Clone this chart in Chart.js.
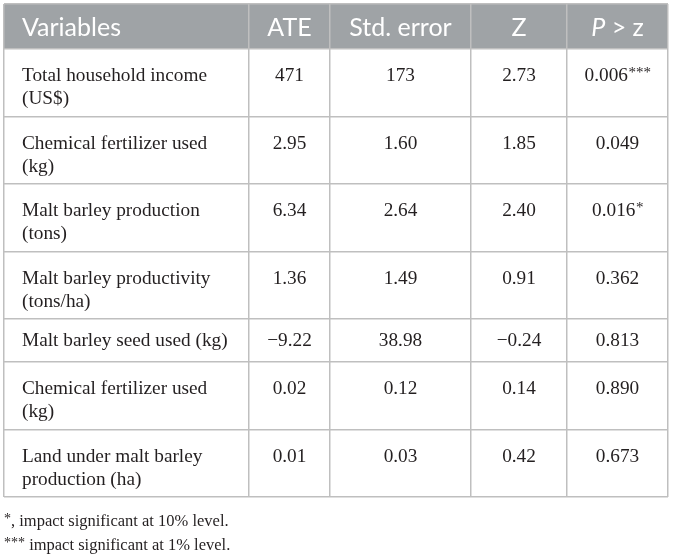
<!DOCTYPE html>
<html>
<head>
<meta charset="utf-8">
<script src="https://cdn.jsdelivr.net/npm/chart.js@4.4.1/dist/chart.umd.min.js"></script>
<style>
  html, body { margin: 0; padding: 0; background: #fff; }
  #table { display: block; }
</style>
</head>
<body>
<canvas id="table" width="673" height="555"></canvas>
<script>
// table content
const headers = ["Variables", "ATE", "Std. error", "Z", "P > z"];
const variables = [
    ["Total household income", "(US$)"],
    ["Chemical fertilizer used", "(kg)"],
    ["Malt barley production", "(tons)"],
    ["Malt barley productivity", "(tons/ha)"],
    ["Malt barley seed used (kg)"],
    ["Chemical fertilizer used", "(kg)"],
    ["Land under malt barley", "production (ha)"]
];
const ate = ["471", "2.95", "6.34", "1.36", "\u22129.22", "0.02", "0.01"];
const stdError = ["173", "1.60", "2.64", "1.49", "38.98", "0.12", "0.03"];
const zValues = ["2.73", "1.85", "2.40", "0.91", "\u22120.24", "0.14", "0.42"];
const pValues = ["0.006", "0.049", "0.016", "0.362", "0.813", "0.890", "0.673"];
const stars = ["***", "", "*", "", "", "", ""];
const footnotes = [
    ["*", ", impact significant at 10% level."],
    ["***", " impact significant at 1% level."]
];

// layout
const colWidths = [245, 81, 141, 96, 101];
const headerHeight = 45;
const lineRowHeight = { 1: 43, 2: 67.5 };

const colEdges = [0];
colWidths.forEach(w => colEdges.push(colEdges[colEdges.length - 1] + w));
const rowEdges = [0, headerHeight];
variables.forEach(v => rowEdges.push(rowEdges[rowEdges.length - 1] + lineRowHeight[v.length]));

const bodyFont = '19.3px "Liberation Serif", "DejaVu Serif", serif';
const starFont = '15px "Liberation Serif", "DejaVu Serif", serif';
const headFont = '25px Lato, "Open Sans", sans-serif';
const headItalic = 'italic 25px Lato, "Open Sans", sans-serif';
const textColor = '#231f20';
const lineColor = '#bfbfbf';

function drawWithStars(ctx, text, sup, x, y, align) {
    ctx.font = bodyFont;
    const w = ctx.measureText(text).width;
    ctx.font = starFont;
    const sw = sup ? ctx.measureText(sup).width : 0;
    let left = align === 'center' ? x - (w + sw) / 2 : x;
    ctx.textAlign = 'left';
    ctx.font = bodyFont;
    ctx.fillText(text, left, y);
    if (sup) {
        ctx.font = starFont;
        ctx.fillText(sup, left + w + 0.5, y - 3);
    }
}

const tablePlugin = {
    id: 'tablePlugin',
    beforeDraw(chart) {
        const { ctx, scales: { x, y } } = chart;
        ctx.save();
        ctx.fillStyle = '#9fa3a6';
        ctx.fillRect(x.getPixelForValue(colEdges[0]), y.getPixelForValue(rowEdges[0]),
            x.getPixelForValue(colEdges[colEdges.length - 1]) - x.getPixelForValue(colEdges[0]),
            y.getPixelForValue(rowEdges[1]) - y.getPixelForValue(rowEdges[0]));
        ctx.restore();
    },
    afterDraw(chart) {
        const { ctx, scales: { x, y } } = chart;
        ctx.save();
        ctx.textBaseline = 'middle';

        // header
        ctx.fillStyle = '#ffffff';
        const hy = y.getPixelForValue(rowEdges[0] + headerHeight / 2) + 1;
        headers.forEach((h, j) => {
            if (j === 0) {
                ctx.font = headFont;
                ctx.textAlign = 'left';
                ctx.fillText(h, x.getPixelForValue(colEdges[0] + 18), hy);
            } else if (j === 4) {
                ctx.font = headItalic;
                const pw = ctx.measureText('P').width;
                ctx.font = headFont;
                const rw = ctx.measureText(' > z').width;
                const cx = x.getPixelForValue((colEdges[j] + colEdges[j + 1]) / 2);
                const left = cx - (pw + rw) / 2;
                ctx.textAlign = 'left';
                ctx.font = headItalic;
                ctx.fillText('P', left, hy);
                ctx.font = headFont;
                ctx.fillText(' > z', left + pw, hy);
            } else {
                ctx.font = headFont;
                ctx.textAlign = 'center';
                ctx.fillText(h, x.getPixelForValue((colEdges[j] + colEdges[j + 1]) / 2), hy);
            }
        });

        // body rows
        ctx.fillStyle = textColor;
        variables.forEach((lines, i) => {
            const top = rowEdges[i + 1];
            const firstY = y.getPixelForValue(top + (lines.length === 1 ? 22 : 27));
            lines.forEach((ln, k) => {
                drawWithStars(ctx, ln, '', x.getPixelForValue(colEdges[0] + 18), firstY + k * 23, 'left');
            });
            const cols = [ate[i], stdError[i], zValues[i], pValues[i]];
            cols.forEach((v, c) => {
                const cx = x.getPixelForValue((colEdges[c + 1] + colEdges[c + 2]) / 2);
                drawWithStars(ctx, v, c === 3 ? stars[i] : '', cx, firstY, 'center');
            });
        });

        // footnotes
        const fy0 = y.getPixelForValue(rowEdges[rowEdges.length - 1]);
        footnotes.forEach((f, k) => {
            const fy = fy0 + 25 + k * 24;
            ctx.font = '14px "Liberation Serif", serif';
            ctx.textAlign = 'left';
            const sw = ctx.measureText(f[0]).width;
            ctx.fillText(f[0], 4, fy - 3);
            ctx.font = '16.5px "Liberation Serif", "DejaVu Serif", serif';
            ctx.fillText(f[1], 4 + sw, fy);
        });
        ctx.restore();
    }
};

const gridOpts = { color: lineColor, lineWidth: 1.5, drawTicks: false };

new Chart(document.getElementById('table'), {
    type: 'scatter',
    data: { datasets: [] },
    options: {
        responsive: false,
        animation: false,
        layout: { padding: { left: 4, top: 4, right: 5, bottom: 58 } },
        plugins: { legend: { display: false }, tooltip: { enabled: false } },
        scales: {
            x: {
                type: 'linear',
                min: colEdges[0],
                max: colEdges[colEdges.length - 1],
                afterBuildTicks: s => { s.ticks = colEdges.map(v => ({ value: v })); },
                ticks: { display: false },
                grid: gridOpts,
                border: { display: false }
            },
            y: {
                type: 'linear',
                reverse: true,
                min: rowEdges[0],
                max: rowEdges[rowEdges.length - 1],
                afterBuildTicks: s => { s.ticks = rowEdges.map(v => ({ value: v })); },
                ticks: { display: false },
                grid: gridOpts,
                border: { display: false }
            }
        }
    },
    plugins: [tablePlugin]
});
</script>
</body>
</html>
